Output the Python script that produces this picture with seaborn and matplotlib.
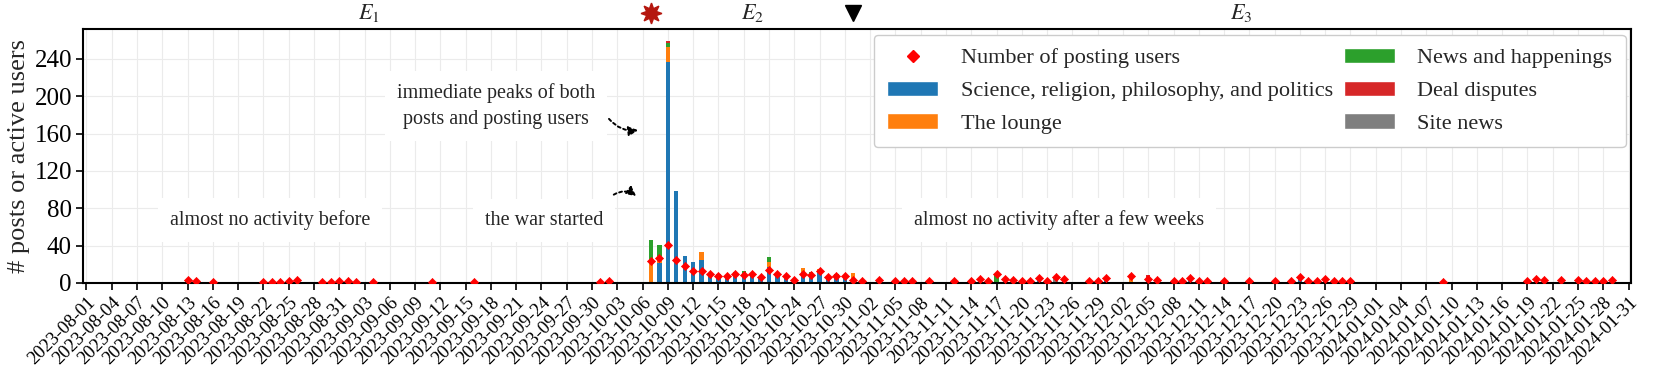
import numpy as np
import pandas as pd
import matplotlib
matplotlib.use("Agg")
import matplotlib.pyplot as plt
from matplotlib.patches import Patch
from matplotlib.lines import Line2D
import seaborn as sns

# ---------------- data ----------------
start_date = "2023-08-01"
end_date = "2024-01-31"
active_dates = [
    "2023-08-13", "2023-08-14", "2023-08-16", "2023-08-22", "2023-08-23", "2023-08-24",
    "2023-08-25", "2023-08-26", "2023-08-29", "2023-08-30", "2023-08-31", "2023-09-01",
    "2023-09-02", "2023-09-04", "2023-09-11", "2023-09-16", "2023-10-01", "2023-10-02",
    "2023-10-07", "2023-10-08", "2023-10-09", "2023-10-10", "2023-10-11", "2023-10-12",
    "2023-10-13", "2023-10-14", "2023-10-15", "2023-10-16", "2023-10-17", "2023-10-18",
    "2023-10-19", "2023-10-20", "2023-10-21", "2023-10-22", "2023-10-23", "2023-10-24",
    "2023-10-25", "2023-10-26", "2023-10-27", "2023-10-28", "2023-10-29", "2023-10-30",
    "2023-10-31", "2023-11-01", "2023-11-03", "2023-11-05", "2023-11-06", "2023-11-07",
    "2023-11-09", "2023-11-12", "2023-11-14", "2023-11-15", "2023-11-16", "2023-11-17",
    "2023-11-18", "2023-11-19", "2023-11-20", "2023-11-21", "2023-11-22", "2023-11-23",
    "2023-11-24", "2023-11-25", "2023-11-28", "2023-11-29", "2023-11-30", "2023-12-03",
    "2023-12-05", "2023-12-06", "2023-12-08", "2023-12-09", "2023-12-10", "2023-12-11",
    "2023-12-12", "2023-12-14", "2023-12-17", "2023-12-20", "2023-12-22", "2023-12-23",
    "2023-12-24", "2023-12-25", "2023-12-26", "2023-12-27", "2023-12-28", "2023-12-29",
    "2024-01-09", "2024-01-19", "2024-01-20", "2024-01-21", "2024-01-23", "2024-01-25",
    "2024-01-26", "2024-01-27", "2024-01-28", "2024-01-29",
]
science = [
    1, 1, 1, 1, 0, 1, 2, 2, 1, 0, 2, 1, 1, 1, 1, 1, 0, 2,
    0, 21, 237, 98, 29, 22, 25, 6, 10, 8, 6, 10, 8, 5, 17, 7, 4, 3,
    12, 7, 11, 3, 6, 6, 0, 2, 3, 0, 2, 2, 2, 2, 2, 4, 2, 0,
    3, 0, 2, 3, 6, 2, 0, 3, 2, 2, 2, 0, 0, 3, 2, 2, 6, 2,
    2, 2, 2, 2, 2, 5, 2, 2, 3, 2, 2, 2,
    1, 2, 4, 0, 0, 3, 0, 2, 2, 0,
]
lounge = [
    0, 1, 0, 0, 0, 0, 0, 1, 0, 0, 0, 0, 0, 0, 0, 0, 1, 0,
    23, 8, 16, 0, 0, 0, 8, 5, 0, 1, 3, 0, 0, 1, 5, 4, 0, 0,
    4, 3, 4, 0, 0, 2, 11, 0, 0, 0, 0, 0, 0, 0, 0, 1, 0, 0,
    0, 0, 0, 0, 0, 0, 0, 0, 0, 0, 3, 10, 0, 0, 0, 0, 0, 0,
    0, 0, 0, 0, 0, 0, 0, 0, 0, 0, 0, 0,
    0, 0, 0, 0, 0, 0, 0, 0, 0, 3,
]
news = [
    2, 0, 0, 0, 1, 0, 0, 0, 0, 1, 0, 1, 0, 0, 0, 0, 0, 0,
    23, 12, 4, 0, 0, 0, 0, 0, 0, 0, 3, 3, 3, 0, 6, 0, 3, 0,
    0, 2, 0, 3, 4, 0, 0, 0, 0, 2, 0, 0, 0, 0, 0, 0, 0, 9,
    1, 3, 0, 0, 0, 0, 0, 0, 0, 0, 0, 0, 0, 0, 0, 0, 0, 0,
    0, 0, 0, 0, 0, 0, 0, 0, 0, 0, 0, 0,
    0, 0, 0, 3, 3, 0, 2, 0, 0, 0,
]
deal = [
    0, 0, 0, 0, 0, 0, 0, 0, 0, 0, 0, 0, 0, 0, 0, 0, 0, 0,
    0, 0, 2, 0, 0, 0, 0, 0, 0, 0, 0, 0, 0, 0, 0, 0, 0, 0,
    0, 0, 0, 0, 0, 0, 0, 0, 0, 0, 0, 0, 0, 0, 0, 0, 0, 0,
    0, 0, 0, 0, 0, 0, 0, 0, 0, 0, 0, 0, 9, 0, 0, 0, 0, 0,
    0, 0, 0, 0, 0, 0, 0, 0, 0, 0, 0, 0,
    0, 0, 0, 0, 0, 0, 0, 0, 0, 0,
]
site = [
    0, 0, 0, 0, 0, 0, 0, 0, 0, 0, 0, 0, 0, 0, 0, 0, 0, 0,
    0, 0, 0, 0, 0, 0, 0, 0, 0, 0, 0, 0, 0, 0, 0, 0, 0, 0,
    0, 0, 0, 0, 0, 0, 0, 0, 0, 0, 0, 0, 0, 0, 0, 0, 0, 0,
    0, 0, 0, 0, 0, 0, 6, 1, 0, 0, 0, 0, 0, 0, 0, 0, 0, 0,
    0, 0, 0, 0, 0, 0, 0, 0, 0, 0, 0, 0,
    0, 0, 0, 0, 0, 0, 0, 0, 0, 0,
]
users = [
    3, 2, 1, 1, 1, 1, 2, 3, 1, 1, 2, 2, 1, 1, 1, 1, 1, 2,
    24, 27, 41, 25, 18, 13, 13, 10, 8, 8, 10, 9, 10, 6, 14, 10, 7, 3,
    10, 9, 13, 6, 7, 7, 3, 2, 3, 2, 2, 2, 2, 2, 2, 4, 2, 10,
    4, 3, 2, 2, 5, 2, 6, 4, 2, 2, 5, 8, 4, 3, 2, 2, 5, 2,
    2, 2, 2, 2, 2, 6, 2, 2, 4, 2, 2, 2,
    1, 2, 4, 3, 3, 3, 2, 2, 2, 3,
]
category_names = [
    "Science, religion, philosophy, and politics",
    "The lounge",
    "News and happenings",
    "Deal disputes",
    "Site news",
]
category_colors = ["#1f77b4", "#ff7f0e", "#2ca02c", "#d62728", "#7f7f7f"]
users_label = "Number of posting users"
event_dates = ["2023-10-07", "2023-10-31"]
period_labels = ["$E_1$", "$E_2$", "$E_3$"]
notes = [
    "almost no activity before",
    "the war started",
    "immediate peaks of both\nposts and posting users",
    "almost no activity after a few weeks",
]

# ---------------- build frames ----------------
all_days = pd.date_range(start_date, end_date, freq="D")
day0 = all_days[0]
df = pd.DataFrame({
    "date": pd.to_datetime(active_dates),
    category_names[0]: science,
    category_names[1]: lounge,
    category_names[2]: news,
    category_names[3]: deal,
    category_names[4]: site,
    "users": users,
})
df["day"] = (df["date"] - day0).dt.days
long = df.melt(id_vars=["day"], value_vars=category_names,
               var_name="category", value_name="posts")
long = long[long["posts"] > 0]

def dindex(s):
    return (pd.Timestamp(s) - day0).days

# ---------------- style ----------------
sns.set_theme(style="ticks")
plt.rcParams["font.family"] = ["Liberation Serif", "DejaVu Serif"]
plt.rcParams["mathtext.fontset"] = "stix"
plt.rcParams["axes.edgecolor"] = "black"
plt.rcParams["xtick.color"] = "black"
plt.rcParams["ytick.color"] = "black"

fig = plt.figure(figsize=(16.61, 3.65), dpi=100)
ax = fig.add_axes([0.050, 0.2247, 0.932, 0.6958])

palette = dict(zip(category_names, category_colors))
sns.histplot(
    data=long, x="day", weights="posts", hue="category",
    hue_order=category_names[::-1], palette=palette,
    multiple="stack", discrete=True, shrink=0.5,
    linewidth=0, alpha=1, legend=False, ax=ax, zorder=2,
)
upos = df[df["users"] > 0]
sns.scatterplot(x=upos["day"], y=upos["users"], marker="D", color="red",
                edgecolor="red", linewidth=0.5, s=17, ax=ax, zorder=3)

n_days = len(all_days) - 1
ax.set_xlim(-0.4, n_days + 0.3)
ax.set_ylim(bottom=0)
tick_pos = np.arange(0, n_days + 1, 3)
ax.set_xticks(tick_pos)
ax.set_xticklabels([all_days[i].strftime("%Y-%m-%d") for i in tick_pos],
                   rotation=45, ha="right", rotation_mode="anchor", fontsize=13.5)
ax.set_yticks(np.arange(0, 241, 40))
ax.tick_params(axis="y", labelsize=18, length=5, width=1.2, pad=3)
ax.tick_params(axis="x", length=5, width=1.2, pad=3)
ax.set_xlabel("")
ax.set_ylabel("# posts or active users", fontsize=19, labelpad=3)
ax.grid(True, color="#ebebeb", linewidth=0.8, zorder=0)
ax.set_axisbelow(True)
for sp in ax.spines.values():
    sp.set_visible(True)
    sp.set_linewidth(1.5)
    sp.set_color("black")

# event markers and period labels above the axes
trans = ax.get_xaxis_transform()
e1, e2 = dindex(event_dates[0]), dindex(event_dates[1])
ax.plot([e1], [1.065], marker=(8, 1, 0), color="#b5170f", markersize=15,
        transform=trans, clip_on=False)
ax.plot([e2], [1.065], marker="v", color="black", markersize=11,
        transform=trans, clip_on=False)
mids = [e1 / 2, (e1 + e2) / 2, (e2 + n_days) / 2]
for m, lab in zip(mids, period_labels):
    ax.text(m, 1.065, lab, transform=trans, ha="center", va="center", fontsize=16)

# annotations
box = dict(boxstyle="square,pad=0.6", fc="white", ec="none")
ax.text(21.8, 67, notes[0], ha="center", va="center", fontsize=14.5, bbox=box, zorder=4)
ax.text(54.3, 67, notes[1], ha="center", va="center", fontsize=14.5, bbox=box, zorder=4)
ax.text(48.6, 190, notes[2], ha="center", va="center", fontsize=14.5, bbox=box,
        linespacing=1.5, zorder=4)
ax.text(115.4, 67, notes[3], ha="center", va="center", fontsize=14.5, bbox=box, zorder=4)
arrow = dict(arrowstyle="-|>", linestyle=(0, (1.5, 1.5)), color="black", lw=1.4,
             mutation_scale=14)
ax.annotate("", xy=(65.8, 164), xytext=(61.8, 178),
            arrowprops=dict(connectionstyle="arc3,rad=0.3", **arrow), zorder=5)
ax.annotate("", xy=(65.5, 91), xytext=(62.3, 93),
            arrowprops=dict(connectionstyle="arc3,rad=-0.4", **arrow), zorder=5)

# legend
handles = [Line2D([0], [0], marker="D", color="none", markerfacecolor="red",
                  markeredgecolor="red", markersize=6, label=users_label)]
handles += [Patch(facecolor=c, label=n) for n, c in zip(category_names, category_colors)]
ax.legend(handles=handles, loc="upper right", ncol=2, fontsize=16, frameon=True,
          fancybox=True, edgecolor="#cccccc", framealpha=1, handlelength=2.3,
          handletextpad=1.0, columnspacing=0.5, borderaxespad=0.25,
          labelspacing=0.55, borderpad=0.6)

fig.savefig("out.png", dpi=100)
